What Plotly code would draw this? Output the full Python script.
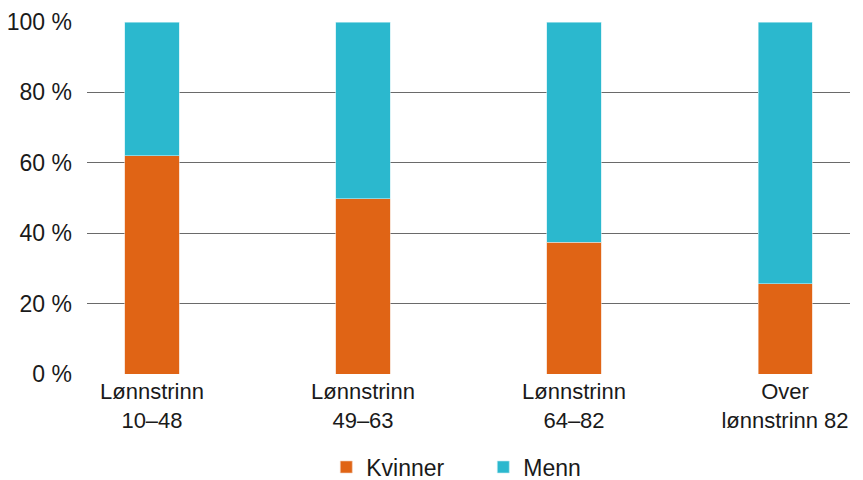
import plotly.graph_objects as go

categories = ["Lønnstrinn<br>10–48", "Lønnstrinn<br>49–63", "Lønnstrinn<br>64–82", "Over<br>lønnstrinn 82"]
kvinner = [62.0, 49.8, 37.4, 25.7]
menn = [38.0, 50.2, 62.6, 74.3]
y_ticks = [0, 20, 40, 60, 80, 100]
y_tick_labels = ["0 %", "20 %", "40 %", "60 %", "80 %", "100 %"]

ORANGE = "#E06415"
TEAL = "#2BB8CE"
FONT = "Liberation Sans, Arial, sans-serif"

fig = go.Figure()
fig.add_trace(go.Bar(x=list(range(len(categories))), y=kvinner, name="Kvinner",
                     marker=dict(color=ORANGE, line=dict(color="#f3d0bb", width=0.6)), width=0.256))
fig.add_trace(go.Bar(x=list(range(len(categories))), y=menn, name="Menn",
                     marker=dict(color=TEAL, line=dict(color="#c5edf3", width=0.6)), width=0.256))

fig.update_layout(
    barmode="stack",
    width=863, height=480,
    margin=dict(l=87, r=13, t=22, b=106, autoexpand=False),
    paper_bgcolor="white", plot_bgcolor="white",
    font=dict(family=FONT, size=22, color="#1a1a1a"),
    showlegend=True,
    legend=dict(orientation="h", xref="container", yref="container",
                x=0.56, xanchor="center", y=0.027, yanchor="middle",
                font=dict(size=23), traceorder="normal", itemwidth=30, entrywidth=112),
    xaxis=dict(tickmode="array", tickvals=list(range(len(categories))), ticktext=categories,
               range=[-0.308, 3.308], showgrid=False, zeroline=False, showline=False,
               ticks="", ticklabelstandoff=2, automargin=False),
    yaxis=dict(range=[0, 100], tickmode="array", tickvals=y_ticks, ticktext=y_tick_labels,
               tickfont=dict(size=23),
               showgrid=True, gridcolor="#6a6a6a", gridwidth=1, zeroline=False,
               showline=False, ticks="", ticklabelstandoff=14, automargin=False),
)

fig.write_html("out.html")
